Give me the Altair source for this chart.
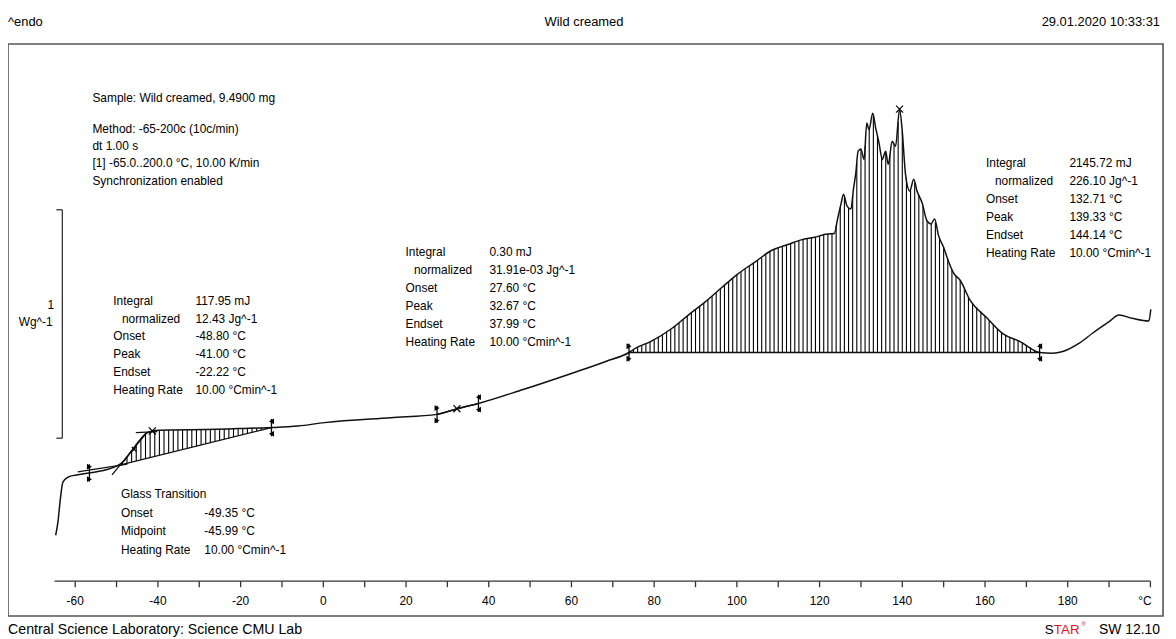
import altair as alt
import numpy as np
import pandas as pd

# ---------------- data ----------------
temp_c = [-64.72, -64.17, -63.59, -62.97, -61.77, -59.75, -56.56, -52.55, -49.76, -48.15,
          -46.54, -44.55, -42.94, -41.35, -39.75, -36.55, -28.53, -20.53, -12.54, -6.12,
          0.29, 16.28, 27.50, 32.30, 37.51, 48.32, 60.33, 68.32, 73.92, 75.53,
          79.13, 84.34, 88.26, 92.34, 96.35, 100.33, 104.34, 108.36, 112.34, 115.56,
          118.75, 121.95, 123.56, 124.35, 125.17, 125.79, 126.61, 127.57, 128.19, 128.77,
          129.32, 129.97, 130.76, 131.41, 131.96, 132.85, 133.57, 134.37, 135.16, 135.97,
          136.60, 137.56, 138.37, 139.34, 139.96, 140.78, 141.81, 142.77, 143.56, 144.76,
          145.96, 146.92, 147.81, 148.77, 149.98, 151.18, 152.38, 153.99, 156.39, 160.37,
          164.38, 168.39, 173.20, 176.39, 178.79, 182.80, 186.00, 190.01, 192.41, 195.60,
          199.61, 200.09]
heat_flow = [0.3535, 0.4117, 0.5130, 0.5857, 0.6074, 0.6174, 0.6261, 0.6404, 0.6578, 0.6796,
             0.7187, 0.7665, 0.7987, 0.8100, 0.8130, 0.8143, 0.8161, 0.8204, 0.8248, 0.8317,
             0.8465, 0.8683, 0.8826, 0.9074, 0.9304, 0.9913, 1.0639, 1.1143, 1.1535, 1.1726,
             1.2013, 1.2596, 1.3174, 1.3752, 1.4378, 1.4987, 1.5491, 1.6000, 1.6261, 1.6465,
             1.6578, 1.6726, 1.6739, 1.7378, 1.8030, 1.8465, 1.7957, 1.7813, 1.8683, 1.9404,
             2.0348, 2.0448, 1.9987, 2.1578, 2.1291, 2.2013, 2.1361, 2.0709, 1.9987, 2.0348,
             1.9770, 2.0783, 2.0565, 2.2187, 2.1291, 1.9335, 1.8609, 1.9117, 1.8609, 1.8100,
             1.7304, 1.7161, 1.7378, 1.6652, 1.6143, 1.5522, 1.5022, 1.4696, 1.3826, 1.3065,
             1.2348, 1.2022, 1.1535, 1.1500, 1.1578, 1.1943, 1.2378, 1.2883, 1.3174, 1.3030,
             1.2913, 1.3422]

# integration baselines (start T, start HF, end T, end HF)
peak1_baseline = [-49.76, 0.6578, -12.54, 0.8248]
peak2_baseline = [27.50, 0.8826, 37.51, 0.9304]
peak3_baseline = [73.92, 1.1535, 173.20, 1.1535]
# glass-transition tangents
gt_tangents = [[-59.40, 0.6304, -47.40, 0.6652],
               [-51.10, 0.6174, -42.63, 0.8043],
               [-45.34, 0.8030, -40.15, 0.8074]]
# limit markers
start_markers = [[-56.56, 0.6261], [27.50, 0.8826], [73.92, 1.1535]]
end_markers = [[-12.54, 0.8248], [37.51, 0.9304], [173.20, 1.1535]]
peak_crosses = [[-41.35, 0.8100], [32.30, 0.9074], [139.34, 2.2187]]
mid_crosses = [[-45.75, 0.7304]]

tick_values = list(range(-60, 201, 10))
tick_labels = [-60, -40, -20, 0, 20, 40, 60, 80, 100, 120, 140, 160, 180]
unit_label = "°C"

header_left = "^endo"
header_mid = "Wild creamed"
header_right = "29.01.2020 10:33:31"
footer_left = "Central Science Laboratory: Science CMU Lab"

info_lines = ["Sample: Wild creamed, 9.4900 mg", "Method: -65-200c (10c/min)", "dt 1.00 s",
              "[1] -65.0..200.0 °C, 10.00 K/min", "Synchronization enabled"]
res_labels = ["Integral", "normalized", "Onset", "Peak", "Endset", "Heating Rate"]
peak1_values = ["117.95 mJ", "12.43 Jg^-1", "-48.80 °C", "-41.00 °C", "-22.22 °C", "10.00 °Cmin^-1"]
peak2_values = ["0.30 mJ", "31.91e-03 Jg^-1", "27.60 °C", "32.67 °C", "37.99 °C", "10.00 °Cmin^-1"]
peak3_values = ["2145.72 mJ", "226.10 Jg^-1", "132.71 °C", "139.33 °C", "144.14 °C", "10.00 °Cmin^-1"]
gt_labels = ["Onset", "Midpoint", "Heating Rate"]
gt_values = ["-49.35 °C", "-45.99 °C", "10.00 °Cmin^-1"]

# ---------------- layout ----------------
W, H = 1163, 576
X_DOM = [-76.25, 203.05]
Y_DOM = [0.0, 2.5043]
AXIS_HF = 0.1522
TICK_HF = 0.1261
LABEL_HF = 0.0652
FONT = "Liberation Sans"
INK = "#111111"

xs = alt.Scale(domain=X_DOM, nice=False, zero=False)
ys = alt.Scale(domain=Y_DOM, nice=False, zero=False)


def X(f):
    return alt.X(f, type="quantitative", scale=xs, axis=None)


def Y(f):
    return alt.Y(f, type="quantitative", scale=ys, axis=None)


layers = []


def hatch(bl, step, start):
    t0, v0, t1, v1 = bl
    ts = np.arange(start, t1, step)
    lo = v0 + (v1 - v0) * (ts - t0) / (t1 - t0)
    hi = np.interp(ts, temp_c, heat_flow)
    return pd.DataFrame({"t": ts, "lo": lo, "hi": np.maximum(hi, lo)})


hatch_df = pd.concat([hatch(peak1_baseline, 1.12, -48.6), hatch(peak3_baseline, 1.0, 75.0)])
layers.append(alt.Chart(hatch_df).mark_rule(color="#000000", strokeWidth=1.1).encode(
    x=X("t"), y=Y("lo"), y2="hi"))

seg = pd.DataFrame([peak1_baseline, peak2_baseline, peak3_baseline] + gt_tangents,
                   columns=["t1", "v1", "t2", "v2"])
layers.append(alt.Chart(seg).mark_rule(color=INK, strokeWidth=1.3).encode(
    x=X("t1"), y=Y("v1"), x2="t2", y2="v2"))

curve = pd.DataFrame({"t": temp_c, "hf": heat_flow, "i": range(len(temp_c))})
layers.append(alt.Chart(curve).mark_line(color=INK, strokeWidth=1.5, interpolate="monotone").encode(
    x=X("t"), y=Y("hf"), order="i:Q"))

MH = 0.038
for mk, shape in ((start_markers, "triangle-right"), (end_markers, "triangle-left")):
    d = pd.DataFrame(mk, columns=["t", "v"])
    d["lo"] = d["v"] - MH
    d["hi"] = d["v"] + MH
    d["lo2"] = d["v"] - MH * 0.72
    d["hi2"] = d["v"] + MH * 0.72
    layers.append(alt.Chart(d).mark_rule(color="black", strokeWidth=1.3).encode(
        x=X("t"), y=Y("lo"), y2="hi"))
    for col in ("lo2", "hi2"):
        layers.append(alt.Chart(d).mark_point(shape=shape, filled=True, size=34, color="black", opacity=1).encode(
            x=X("t"), y=Y(col)))

xshape = "M-1,-1L1,1M-1,1L1,-1"
layers.append(alt.Chart(pd.DataFrame(peak_crosses, columns=["t", "v"])).mark_point(
    shape=xshape, filled=False, size=50, color="black", strokeWidth=1.2, opacity=1).encode(x=X("t"), y=Y("v")))
layers.append(alt.Chart(pd.DataFrame(mid_crosses, columns=["t", "v"])).mark_point(
    shape=xshape, filled=False, size=22, color="black", strokeWidth=1.2, opacity=1).encode(x=X("t"), y=Y("v")))

ax = pd.DataFrame({"t1": [-65.0], "t2": [200.0], "v": [AXIS_HF]})
layers.append(alt.Chart(ax).mark_rule(color="#333", strokeWidth=1.3).encode(x=X("t1"), x2="t2", y=Y("v")))
tk = pd.DataFrame({"t": tick_values, "v1": AXIS_HF, "v2": TICK_HF})
layers.append(alt.Chart(tk).mark_rule(color="#333", strokeWidth=1.3).encode(x=X("t"), y=Y("v1"), y2="v2"))
tl = pd.DataFrame({"t": tick_labels, "v": LABEL_HF, "s": [str(v) for v in tick_labels]})
layers.append(alt.Chart(tl).mark_text(font=FONT, fontSize=12, color="black", baseline="middle").encode(
    x=X("t"), y=Y("v"), text="s:N"))
layers.append(alt.Chart(pd.DataFrame({"t": [200.3], "v": [LABEL_HF], "s": [unit_label]})).mark_text(
    font=FONT, fontSize=12, color="black", baseline="middle", align="right").encode(x=X("t"), y=Y("v"), text="s:N"))

sb = pd.DataFrame({"t": [-63.11], "lo": [0.7783], "hi": [1.7783]})
layers.append(alt.Chart(sb).mark_rule(color="#333", strokeWidth=1.3).encode(x=X("t"), y=Y("lo"), y2="hi"))
sbt = pd.DataFrame({"t1": [-64.55, -64.55], "t2": [-63.11, -63.11], "v": [0.7783, 1.7783]})
layers.append(alt.Chart(sbt).mark_rule(color="#333", strokeWidth=1.3).encode(x=X("t1"), x2="t2", y=Y("v")))

one = pd.DataFrame({"a": [0]})


def txt(s, px, py, align="left", size=12, color="black", font=FONT):
    return alt.Chart(one).mark_text(text=s, align=align, baseline="middle", fontSize=size,
                                    font=font, color=color).encode(
        x=alt.value(px - 8), y=alt.value(py - 42))


texts = []
texts.append(txt(header_left, 8, 20, size=13))
texts.append(txt(header_mid, 588, 20, align="center", size=13))
texts.append(txt(header_right, 1168, 20, align="right", size=13))
texts.append(txt(footer_left, 8, 632, size=14.3))
texts.append(txt("S", 1052, 632, size=13.5))
texts.append(txt("TAR", 1061, 632, size=13.5, color="#e8141c"))
texts.append(txt("®", 1089, 626, size=6, color="#e8141c"))
texts.append(txt("SW 12.10", 1168, 632, align="right", size=14))

for s, py in zip(info_lines, [96, 127.5, 145, 162.3, 179.6]):
    texts.append(txt(s, 93, py))

texts.append(txt("1", 51, 305, align="center"))
texts.append(txt("Wg^-1", 53, 322, align="right"))


def block(lx, nx, vx, y0, dy, values):
    out = []
    for i, (lab, val) in enumerate(zip(res_labels, values)):
        out.append(txt(lab, nx if lab == "normalized" else lx, y0 + i * dy))
        out.append(txt(val, vx, y0 + i * dy))
    return out


texts += block(114, 122.7, 196.7, 300.7, 17.9, peak1_values)
texts += block(408.3, 416.7, 492.7, 251.7, 18.0, peak2_values)
texts += block(992.7, 1001.7, 1076.7, 162.3, 18.0, peak3_values)

texts.append(txt("Glass Transition", 121.7, 495.7))
for i, (lab, val) in enumerate(zip(gt_labels, gt_values)):
    texts.append(txt(lab, 121.7, 514.3 + i * 18.4))
    texts.append(txt(val, 205.7, 514.3 + i * 18.4))

chart = alt.layer(*layers, *texts).properties(
    width=W, height=H,
    autosize=alt.AutoSizeParams(type="none"),
    padding={"left": 0, "top": 34, "right": 5, "bottom": 21},
    background="white",
).configure_view(stroke="#555", strokeWidth=1.6)

chart.save("out.html", embed_options={"renderer": "svg", "actions": False})
